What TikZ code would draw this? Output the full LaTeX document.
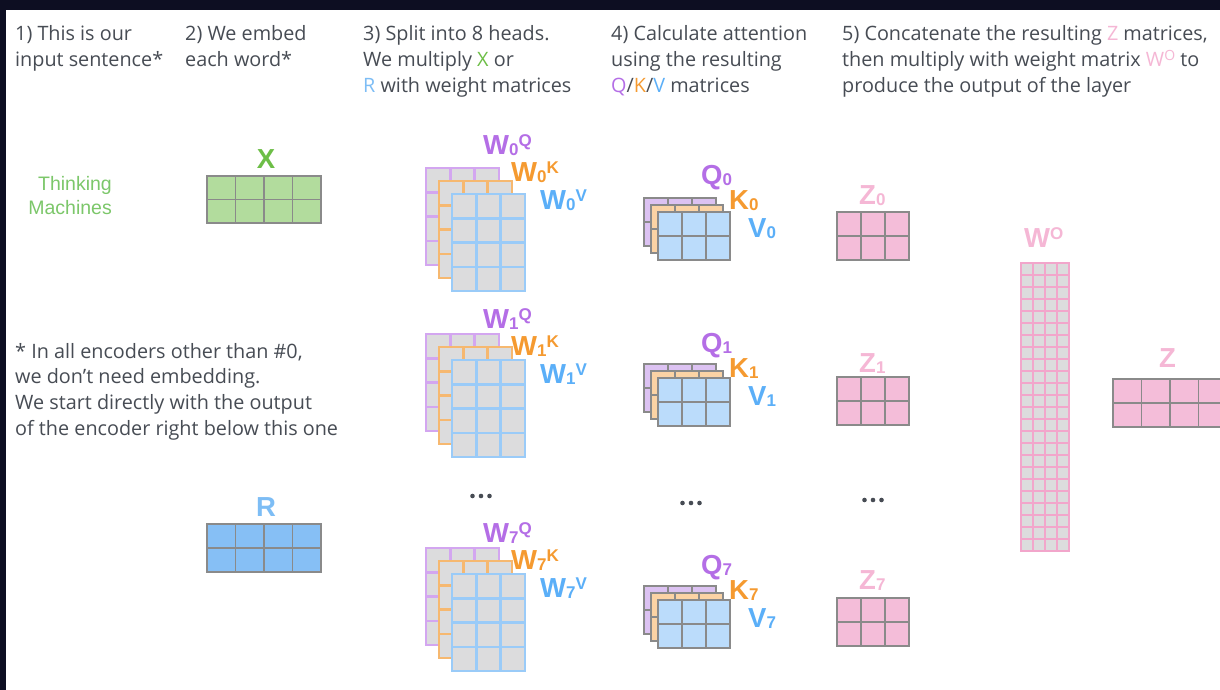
\documentclass[tikz,border=0pt]{standalone}
\usepackage{fontspec}
\setmainfont{Open Sans}
\newfontfamily\labelfont{Liberation Sans}
\usepackage{tikz}
\usetikzlibrary{calc}

\definecolor{frame}{HTML}{0D0E22}
\definecolor{txtgray}{HTML}{474C54}
\definecolor{xgreen}{HTML}{6DBE47}
\definecolor{xfill}{HTML}{B2DC9D}
\definecolor{wordgreen}{HTML}{7CC76A}
\definecolor{rblue}{HTML}{7DBDF5}
\definecolor{rfill}{HTML}{86BFF5}
\definecolor{qpurple}{HTML}{B46EE6}
\definecolor{korange}{HTML}{F59A30}
\definecolor{vblue}{HTML}{5BAFF8}
\definecolor{wpurple}{HTML}{D3A6F0}
\definecolor{worange}{HTML}{F6B870}
\definecolor{wblue}{HTML}{9ACBF8}
\definecolor{wgray}{HTML}{DCDCDD}
\definecolor{qfillp}{HTML}{DCC2F2}
\definecolor{qfillo}{HTML}{FBD3A5}
\definecolor{qfillb}{HTML}{BBDCFB}
\definecolor{zpink}{HTML}{F5B7D5}
\definecolor{zfill}{HTML}{F4BDD9}
\definecolor{wopink}{HTML}{F2A6CB}
\definecolor{gridgray}{HTML}{8A8A8A}

% matrix of cells: style, left, top, columns, rows, cell width, cell height
\newcommand{\cellmat}[7]{%
  \path[#1] (#2,#3) rectangle ++(#4*#6,#5*#7);
  \foreach \c in {0,...,#4} \draw[#1] (#2+\c*#6,#3) -- ++(0,#5*#7);
  \foreach \r in {0,...,#5} \draw[#1] (#2,#3+\r*#7) -- ++(#4*#6,0);
}
\newcommand{\lsub}[1]{{\fontsize{17}{17}\selectfont\raisebox{-1pt}{#1}}}
\newcommand{\lsup}[1]{{\fontsize{17}{17}\selectfont\raisebox{7.5pt}{#1}}}

\begin{document}
\begin{tikzpicture}[x=1pt,y=-1pt,
  head/.style={anchor=base west, inner sep=0pt, text=txtgray, font=\fontsize{19.8}{26}\selectfont},
  lab/.style={anchor=base west, inner sep=0pt, font=\labelfont\bfseries\fontsize{27.5}{27.5}\selectfont},
  word/.style={anchor=base east, inner sep=0pt, text=wordgreen, font=\labelfont\fontsize{19.5}{23}\selectfont},
  wpm/.style={fill=wgray, draw=wpurple, line width=2.5pt},
  wom/.style={fill=wgray, draw=worange, line width=2.5pt},
  wbm/.style={fill=wgray, draw=wblue, line width=2.5pt},
  qpm/.style={fill=qfillp, draw=gridgray, line width=1.2pt},
  qom/.style={fill=qfillo, draw=gridgray, line width=1.2pt},
  qbm/.style={fill=qfillb, draw=gridgray, line width=1.2pt},
  zm/.style={fill=zfill, draw=gridgray, line width=1.2pt},
  xm/.style={fill=xfill, draw=gridgray, line width=1.2pt},
  rm/.style={fill=rfill, draw=gridgray, line width=1.2pt},
  wo/.style={fill=wgray, draw=wopink, line width=1.8pt}]

  % Canvas and dark frame
  \useasboundingbox (0,0) rectangle (1220,690);
  \fill[white] (0,0) rectangle (1220,690);
  \fill[frame] (0,0) rectangle (1220,10);
  \fill[frame] (0,0) rectangle (6,690);

  % Step headings
  \node[head] (h1a) at (15,41) {1) This is our};
  \node[head] (h1b) at (15,67) {input sentence*};
  \node[head] (h2a) at (185,41) {2) We embed};
  \node[head] (h2b) at (185,67) {each word*};
  \node[head] (h3a) at (363,41) {3) Split into 8 heads.};
  \node[head] (h3b) at (363,67) {We multiply {\color{xgreen}X} or};
  \node[head] (h3c) at (363,93) {{\color{rblue}R} with weight matrices};
  \node[head] (h4a) at (611,41) {4) Calculate attention};
  \node[head] (h4b) at (611,67) {using the resulting};
  \node[head] (h4c) at (611,93) {{\color{qpurple}Q}/{\color{korange}K}/{\color{vblue}V} matrices};
  \node[head] (h5a) at (842,41) {5) Concatenate the resulting {\color{zpink}Z} matrices,};
  \node[head] (h5b) at (842,67) {then multiply with weight matrix {\color{zpink}W\raisebox{6pt}{\fontsize{14}{14}\selectfont O}} to};
  \node[head] (h5c) at (842,93) {produce the output of the layer};

  % Input sentence
  \node[word] (think) at (112,190) {Thinking};
  \node[word] (mach) at (112,214) {Machines};

  % Footnote
  \node[head] (f1) at (15,358) {* In all encoders other than \#0,};
  \node[head] (f2) at (15,383) {we don’t need embedding.};
  \node[head] (f3) at (15,409) {We start directly with the output};
  \node[head] (f4) at (15,435) {of the encoder right below this one};

  % X and R
  \cellmat{xm}{207}{176}{4}{2}{28.5}{23.5}
  \node[lab, anchor=base, text=xgreen] (xlab) at (266,168) {X};
  \cellmat{rm}{207}{524}{4}{2}{28.5}{24}
  \node[lab, anchor=base, text=rblue] (rlab) at (266,516) {R};

  % Weight matrices for heads 0, 1, 7
  \foreach \n/\dm/\dl in {0/0/0, 1/166/174, 7/380/388} {
    \cellmat{wpm}{426}{168+\dm}{3}{4}{24.3}{24.3}
    \cellmat{wom}{439}{181+\dm}{3}{4}{24.3}{24.3}
    \cellmat{wbm}{452}{194+\dm}{3}{4}{24.3}{24.3}
    \node[lab, text=qpurple] (wq\n) at (483,154+\dl) {W\lsub{\n}\lsup{Q}};
    \node[lab, text=korange] (wk\n) at (511,181+\dl) {W\lsub{\n}\lsup{K}};
    \node[lab, text=vblue] (wv\n) at (540,209+\dl) {W\lsub{\n}\lsup{V}};
  }

  % Q/K/V per head
  \foreach \n/\dm/\dl in {0/0/0, 1/166/168, 7/388/390} {
    \cellmat{qpm}{644}{198+\dm}{3}{2}{24}{24}
    \cellmat{qom}{651}{205+\dm}{3}{2}{24}{24}
    \cellmat{qbm}{658}{212+\dm}{3}{2}{24}{24}
    \node[lab, text=qpurple] (q\n) at (701,184+\dl) {Q\lsub{\n}};
    \node[lab, text=korange] (k\n) at (729,209+\dl) {K\lsub{\n}};
    \node[lab, text=vblue] (v\n) at (748,237+\dl) {V\lsub{\n}};
  }

  % Z per head
  \foreach \n/\dm/\dl in {0/0/0, 1/165/168, 7/386/385} {
    \cellmat{zm}{837}{212+\dm}{3}{2}{24}{24}
    \node[lab, text=zpink] (z\n) at (859,204+\dl) {Z\lsub{\n}};
  }

  % Ellipses between heads
  \foreach \x/\y in {481/496, 691/503, 873/500}
    \foreach \k in {-1,0,1}
      \fill[txtgray] (\x+\k*8.5,\y) circle (2.3);

  % Output weights and result
  \cellmat{wo}{1021}{263}{4}{24}{12}{12}
  \node[lab, text=zpink] (wolab) at (1024,247) {W\lsup{O}};
  \cellmat{zm}{1113}{379}{4}{2}{28.5}{24}
  \node[lab, text=zpink] (zlab) at (1159,367) {Z};
\end{tikzpicture}
\end{document}
